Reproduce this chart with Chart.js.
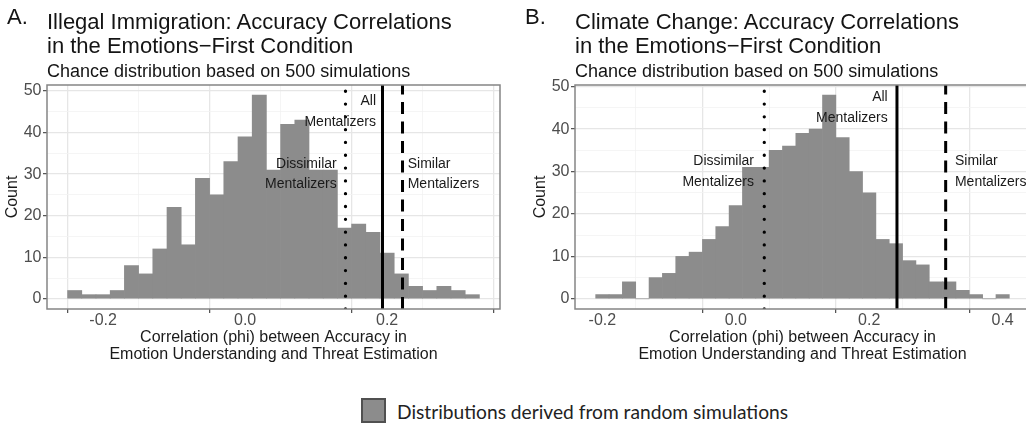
<!DOCTYPE html>
<html><head><meta charset="utf-8">
<script src="https://cdn.jsdelivr.net/npm/chart.js@4.4.1/dist/chart.umd.min.js"></script>
<style>
html,body{margin:0;padding:0;background:#fff;overflow:hidden;}
#wrap{position:relative;width:1026px;height:424px;overflow:hidden;font-family:"Liberation Sans",Arial,sans-serif;color:#141414;}
.abs{position:absolute;white-space:nowrap;}
.letter{font-size:22px;line-height:24px;}
.title{font-size:22px;line-height:24px;}
.sub{font-size:18px;line-height:20px;}
canvas{position:absolute;top:0;}
#lgbox{position:absolute;left:361px;top:398px;width:25px;height:25px;box-sizing:border-box;background:#8c8c8c;border:2px solid #505050;}
#lgtext{position:absolute;left:397px;top:400px;font-family:Lato,"Open Sans",sans-serif;font-size:19.2px;line-height:24px;color:#222;white-space:nowrap;}
</style></head><body>
<div id="wrap">
 <canvas id="cA" width="513" height="370" style="left:0px"></canvas>
 <canvas id="cB" width="515" height="370" style="left:528px"></canvas>
 <div class="abs letter" style="left:7px;top:5px">A.</div>
 <div class="abs title" style="left:47px;top:10px">Illegal Immigration: Accuracy Correlations<br>in the Emotions−First Condition</div>
 <div class="abs sub" style="left:47px;top:61px">Chance distribution based on 500 simulations</div>
 <div class="abs letter" style="left:525px;top:5px">B.</div>
 <div class="abs title" style="left:575px;top:10px">Climate Change: Accuracy Correlations<br>in the Emotions−First Condition</div>
 <div class="abs sub" style="left:575px;top:61px">Chance distribution based on 500 simulations</div>
 <div id="lgbox"></div>
 <div id="lgtext">Distributions derived from random simulations</div>
</div>
<script>
// ---- data ----
const binsA   = [-0.24,-0.22,-0.20,-0.18,-0.16,-0.14,-0.12,-0.10,-0.08,-0.06,-0.04,-0.02,0.00,0.02,0.04,0.06,0.08,0.10,0.12,0.14,0.16,0.18,0.20,0.22,0.24,0.26,0.28,0.30,0.32];
const countsA = [2,1,1,2,8,6,12,22,13,29,25,33,39,49,31,42,43,31,31,17,18,16,11,6,3,2,3,2,1];
const binsB   = [-0.20,-0.18,-0.16,-0.14,-0.12,-0.10,-0.08,-0.06,-0.04,-0.02,0.00,0.02,0.04,0.06,0.08,0.10,0.12,0.14,0.16,0.18,0.20,0.22,0.24,0.26,0.28,0.30,0.32,0.34,0.36,0.38,0.40];
const countsB = [1,1,4,0,5,6,10,11,14,17,22,31,31,35,36,39,40,48,38,30,25,14,13,9,8,4,4,2,1,0,1];

// observed correlations: [dissimilar, all, similar]
const linesA = [0.1414, 0.1935, 0.2217];
const linesB = [0.0427, 0.2416, 0.3146];

const xTicksA = [-0.2, 0.0, 0.2];
const xTickLabelsA = ['-0.2', '0.0', '0.2'];
const xMinorA = [-0.1, 0.1, 0.3];
const xTicksB = [-0.2, 0.0, 0.2, 0.4];
const xTickLabelsB = ['-0.2', '0.0', '0.2', '0.4'];
const xMinorB = [-0.1, 0.1, 0.3];
const yTicks = [0, 10, 20, 30, 40, 50];
const yTickLabels = ['0', '10', '20', '30', '40', '50'];
const yMinor = [5, 15, 25, 35, 45];

const xTitle = ['Correlation (phi) between Accuracy in', 'Emotion Understanding and Threat Estimation'];
const yTitle = 'Count';

const annotsA = [
  {x: 0.129,  y: 30, lines: ['Dissimilar', 'Mentalizers'], align: 'right'},
  {x: 0.1844, y: 45, lines: ['All', 'Mentalizers'], align: 'right'},
  {x: 0.229,  y: 30, lines: ['Similar', 'Mentalizers'], align: 'left'}
];
const annotsB = [
  {x: 0.0273, y: 30, lines: ['Dissimilar', 'Mentalizers'], align: 'right'},
  {x: 0.2277, y: 45, lines: ['All', 'Mentalizers'], align: 'right'},
  {x: 0.3285, y: 30, lines: ['Similar', 'Mentalizers'], align: 'left'}
];

// ---- chart construction ----
const FONT = "'Liberation Sans', Arial, sans-serif";
Chart.defaults.font.family = FONT;

const framePlugin = {
  id: 'frame',
  afterDatasetsDraw(chart) {
    const {ctx, chartArea: a} = chart;
    ctx.save();
    ctx.strokeStyle = '#858585';
    ctx.lineWidth = 1.5;
    ctx.strokeRect(a.left, a.top, a.right - a.left, a.bottom - a.top);
    ctx.restore();
  }
};
const annotPlugin = {
  id: 'annot',
  afterDraw(chart, args, opts) {
    const {ctx, scales: {x, y}} = chart;
    ctx.save();
    ctx.font = '14px ' + FONT;
    ctx.fillStyle = '#1a1a1a';
    ctx.textBaseline = 'middle';
    for (const a of opts.items) {
      const px = x.getPixelForValue(a.x) , py = y.getPixelForValue(a.y);
      ctx.textAlign = a.align;
      const n = a.lines.length;
      a.lines.forEach((t, i) => ctx.fillText(t, px, py + (i - (n - 1) / 2) * 20.8));
    }
    ctx.restore();
  }
};

function near(list, v) { return list.findIndex(m => Math.abs(m - v) < 1e-9); }
function isMinor(list, c) { return !!(c && c.tick) && near(list, c.tick.value) >= 0; }

function makeChart(id, bins, counts, lines, xMaj, xLab, xMin, annots) {
  const bw = bins[1] - bins[0];
  const lo = bins[0] - bw / 2, hi = bins[bins.length - 1] + bw / 2;
  const ex = (hi - lo) * 0.05;
  const cmax = Math.max(...counts);
  const yLo = -cmax * 0.05, yHi = cmax * 1.05;
  const vline = (v, dash, cap, w) => ({
    type: 'line', data: [{x: v, y: yLo}, {x: v, y: yHi}],
    borderColor: '#000', borderWidth: w, borderDash: dash, borderCapStyle: cap,
    pointRadius: 0, fill: false, order: 0
  });
  const gridOpts = (minorList) => ({
    color: c => isMinor(minorList, c) ? '#f3f3f3' : '#e6e6e6',
    lineWidth: c => isMinor(minorList, c) ? 0.8 : 1.3,
    tickColor: c => isMinor(minorList, c) ? 'rgba(0,0,0,0)' : '#4d4d4d',
    tickLength: 4, tickWidth: 1.2, drawTicks: true
  });
  return new Chart(document.getElementById(id), {
    type: 'bar',
    data: {
      datasets: [
        {type: 'bar', data: bins.map((b, i) => ({x: b, y: counts[i]})),
         backgroundColor: '#8c8c8c', borderWidth: 0, barPercentage: 1, categoryPercentage: 1, order: 2},
        vline(lines[0], [0.01, 12.8], 'round', 3.3),
        vline(lines[1], [], 'butt', 3),
        vline(lines[2], [12, 7.5], 'butt', 3)
      ]
    },
    options: {
      responsive: false, animation: false, devicePixelRatio: 1,
      layout: {padding: {left: 0, right: 13, top: 85, bottom: 0}},
      plugins: {legend: {display: false}, tooltip: {enabled: false}, annot: {items: annots}},
      scales: {
        x: {
          type: 'linear', min: lo - ex, max: hi + ex, offset: false,
          afterFit: s => { s.height = 61; },
          afterBuildTicks: s => { s.ticks = [...xMaj, ...xMin].sort((p, q) => p - q).map(v => ({value: v})); },
          grid: gridOpts(xMin),
          border: {display: false},
          ticks: {
            autoSkip: false, maxRotation: 0, color: '#4d4d4d', padding: 0,
            font: {size: 16, lineHeight: 1.0},
            callback: v => { const k = near(xMaj, v); return k >= 0 ? xLab[k] : ''; }
          },
          title: {display: true, text: xTitle, color: '#1a1a1a', font: {size: 16, lineHeight: 1.08}, padding: {top: 0, bottom: 6.4}}
        },
        y: {
          min: yLo, max: yHi,
          afterFit: s => { s.width = 47; },
          afterBuildTicks: s => { s.ticks = [...yTicks, ...yMinor].sort((p, q) => p - q).map(v => ({value: v})); },
          grid: gridOpts(yMinor),
          border: {display: false},
          ticks: {
            autoSkip: false, color: '#4d4d4d', padding: 1.5, font: {size: 16},
            callback: v => { const k = near(yTicks, v); return k >= 0 ? yTickLabels[k] : ''; }
          },
          title: {display: true, text: yTitle, color: '#1a1a1a', font: {size: 16}, padding: {top: 2.9, bottom: 0}}
        }
      }
    },
    plugins: [framePlugin, annotPlugin]
  });
}

makeChart('cA', binsA, countsA, linesA, xTicksA, xTickLabelsA, xMinorA, annotsA);
makeChart('cB', binsB, countsB, linesB, xTicksB, xTickLabelsB, xMinorB, annotsB);
</script>
</body></html>
